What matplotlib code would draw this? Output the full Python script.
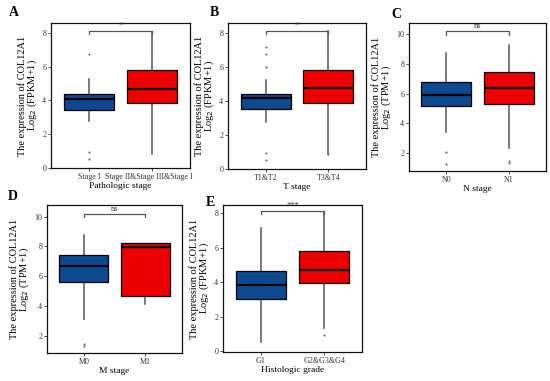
import matplotlib
matplotlib.use("Agg")
import matplotlib.pyplot as plt
from matplotlib.transforms import Bbox, TransformedBbox

plt.rcParams['font.family'] = ['Liberation Serif', 'DejaVu Serif']

# ---- data ----
labels_A = ["Stage I", "Stage II&Stage III&Stage IV"]
q1_A = [3.4, 3.85]; med_A = [4.1, 4.7]; q3_A = [4.4, 5.8]
lo_A = [2.75, 0.8]; hi_A = [5.25, 8.05]
fl_A = [[6.75, 0.95, 0.5], []]

labels_B = ["T1&T2", "T3&T4"]
q1_B = [3.55, 3.85]; med_B = [4.2, 4.75]; q3_B = [4.4, 5.8]
lo_B = [2.75, 0.85]; hi_B = [5.25, 8.1]
fl_B = [[7.2, 6.75, 6.0, 0.95, 0.5], [0.85]]

labels_C = ["N0", "N1"]
q1_C = [5.15, 5.3]; med_C = [5.9, 6.35]; q3_C = [6.75, 7.45]
lo_C = [3.4, 2.35]; hi_C = [8.7, 9.3]
fl_C = [[2.05, 1.3], [1.5, 1.35]]

labels_D = ["M0", "M1"]
q1_D = [5.6, 4.7]; med_D = [6.65, 7.95]; q3_D = [7.4, 8.2]
lo_D = [3.15, 4.15]; hi_D = [8.75, 8.25]
fl_D = [[1.45, 1.3], []]

labels_E = ["G1", "G2&G3&G4"]
q1_E = [3.0, 3.95]; med_E = [3.85, 4.7]; q3_E = [4.65, 5.8]
lo_E = [0.5, 1.35]; hi_E = [7.15, 8.05]
fl_E = [[], [0.9]]

xtitles = ["Pathologic stage", "T stage", "N stage", "M stage", "Histologic grade"]
units = ["FPKM+1", "FPKM+1", "TPM+1", "TPM+1", "FPKM+1"]
sig = ["*", "*", "ns", "ns", "***"]
sig_y = [8.15, 8.15, 10.2, 10.2, 8.15]
ylims = [(-0.02, 8.6), (-0.02, 8.6), (0.8, 10.75), (0.84, 10.78), (-0.06, 8.48)]
yticks = [[0, 2, 4, 6, 8], [0, 2, 4, 6, 8], [2, 4, 6, 8, 10], [2, 4, 6, 8, 10], [0, 2, 4, 6, 8]]
letters = ["A", "B", "C", "D", "E"]

W, H = 550, 381
# axes pixel boxes: left, top, right, bottom
boxes_px = [(51, 23, 190, 168), (228, 23, 366, 169), (409, 23, 546, 171),
            (47, 205, 182, 353), (223, 205, 362, 352)]
letter_px = [(14, 13), (214, 13), (396, 14), (13, 196), (210, 202)]

fig = plt.figure(figsize=(5.5, 3.81), dpi=100)

panels = [
    (labels_A, q1_A, med_A, q3_A, lo_A, hi_A, fl_A),
    (labels_B, q1_B, med_B, q3_B, lo_B, hi_B, fl_B),
    (labels_C, q1_C, med_C, q3_C, lo_C, hi_C, fl_C),
    (labels_D, q1_D, med_D, q3_D, lo_D, hi_D, fl_D),
    (labels_E, q1_E, med_E, q3_E, lo_E, hi_E, fl_E),
]
colors = ["#0B4A91", "#EE0000"]
grey = "#555555"

for i, (labs, q1, med, q3, lo, hi, fl) in enumerate(panels):
    l, t, r, b = boxes_px[i]
    ax = fig.add_axes([l / W, 1 - b / H, (r - l) / W, (b - t) / H])
    stats = []
    for k in range(2):
        stats.append(dict(label=labs[k], q1=q1[k], med=med[k], q3=q3[k],
                          whislo=lo[k], whishi=hi[k], fliers=fl[k]))
    bp = ax.bxp(stats, positions=[1, 2], widths=0.8, patch_artist=True,
                showcaps=False,
                boxprops=dict(edgecolor="black", linewidth=0.9),
                medianprops=dict(color="black", linewidth=1.6),
                whiskerprops=dict(color=grey, linewidth=1.1),
                flierprops=dict(marker="o", markersize=1.5, markerfacecolor="#666666",
                                markeredgewidth=0, linestyle="none"))
    for patch, c in zip(bp["boxes"], colors):
        patch.set_facecolor(c)
        patch.set_zorder(3)
    for m in bp["medians"]:
        m.set_zorder(4)
    ax.set_xlim(0.4, 2.6)
    ax.set_ylim(*ylims[i])
    ax.set_yticks(yticks[i])
    ax.tick_params(labelsize=5.8, length=2, width=0.6, pad=1.5, colors="#333333")
    for s in ax.spines.values():
        s.set_linewidth(0.9)
        s.set_color("#111111")
    ax.set_xlabel(xtitles[i], fontsize=6.8, labelpad=1)
    ax.set_ylabel("The expression of COL12A1\nLog$_2$ (" + units[i] + ")",
                  fontsize=7.5, labelpad=2, linespacing=0.85)
    # significance bracket
    ys = sig_y[i]
    span = ylims[i][1] - ylims[i][0]
    tick = span * 0.025
    ax.plot([1, 1, 2, 2], [ys - tick, ys, ys, ys - tick], color=grey, lw=0.9,
            clip_on=False)
    ax.text(1.5, ys + span * 0.005, sig[i], ha="center", va="bottom",
            fontsize=6, color="#333333")
    lx, ly = letter_px[i]
    fig.text(lx / W, 1 - ly / H, letters[i], fontsize=10, fontweight="bold",
             ha="center", va="center")
    if i == 0:
        clip = TransformedBbox(Bbox([[0, 0], [193 / W, 1]]), fig.transFigure)
        for lab in ax.get_xticklabels():
            lab.set_clip_box(clip)
            lab.set_clip_on(True)

fig.savefig("out.png", dpi=100)
